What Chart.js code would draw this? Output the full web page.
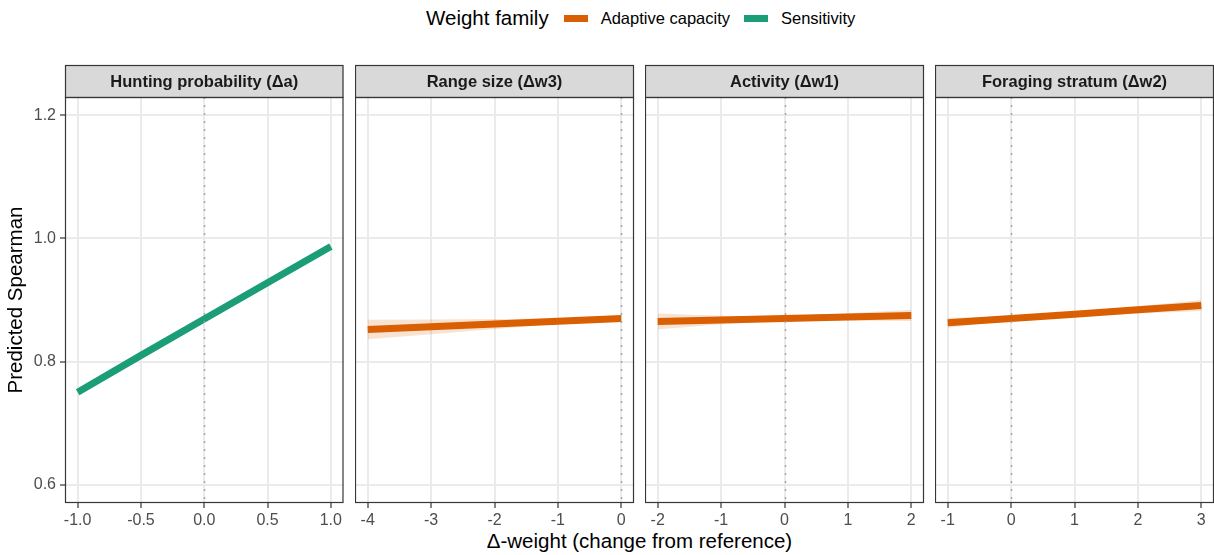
<!DOCTYPE html>
<html>
<head>
<meta charset="utf-8">
<script src="https://cdn.jsdelivr.net/npm/chart.js@4.4.1/dist/chart.umd.min.js"></script>
<style>
  html, body { margin: 0; padding: 0; background: #fff; }
  body { width: 1214px; height: 555px; position: relative; overflow: hidden;
         font-family: 'Liberation Sans', Arial, Helvetica, sans-serif; }
  canvas { position: absolute; top: 0; }
  #legend { position: absolute; left: 426px; top: 6px; height: 24px; display: flex; align-items: center; white-space: nowrap; }
  #legend .title { font-size: 20.5px; color: #000; margin-right: 15px; }
  #legend .key { width: 24px; height: 7px; margin-right: 13px; }
  #legend .label { font-size: 16.5px; color: #000; margin-right: 14px; }
  #xtitle { position: absolute; left: 65px; width: 1149px; top: 529px; height: 24px; line-height: 24px;
            text-align: center; font-size: 20.5px; color: #000; white-space: nowrap; }
</style>
</head>
<body>
<div id="legend"></div>
<div id="xtitle">Δ-weight (change from reference)</div>
<script>
// ---- data -------------------------------------------------------------
const familyNames = ['Adaptive capacity', 'Sensitivity'];
const legendTitle = 'Weight family';

const panelTitles = ['Hunting probability (Δa)', 'Range size (Δw3)', 'Activity (Δw1)', 'Foraging stratum (Δw2)'];
const panelFamilies = ['Sensitivity', 'Adaptive capacity', 'Adaptive capacity', 'Adaptive capacity'];

// Hunting probability (Δa)
const xHunting    = [-1, -0.5, 0, 0.5, 1];
const fitHunting  = [0.750, 0.810, 0.869, 0.928, 0.987];
const lowHunting  = [0.746, 0.807, 0.867, 0.925, 0.983];
const highHunting = [0.754, 0.813, 0.871, 0.931, 0.991];

// Range size (Δw3)
const xRange    = [-4, -3, -2, -1, 0];
const fitRange  = [0.852, 0.8565, 0.861, 0.8655, 0.870];
const lowRange  = [0.836, 0.8445, 0.853, 0.861, 0.867];
const highRange = [0.868, 0.8685, 0.869, 0.870, 0.873];

// Activity (Δw1)
const xActivity    = [-2, -1, 0, 1, 2];
const fitActivity  = [0.865, 0.8675, 0.870, 0.8725, 0.875];
const lowActivity  = [0.852, 0.8605, 0.867, 0.8665, 0.866];
const highActivity = [0.878, 0.8745, 0.873, 0.8785, 0.884];

// Foraging stratum (Δw2)
const xForaging    = [-1, 0, 1, 2, 3];
const fitForaging  = [0.863, 0.870, 0.877, 0.884, 0.891];
const lowForaging  = [0.855, 0.867, 0.873, 0.878, 0.882];
const highForaging = [0.871, 0.873, 0.881, 0.890, 0.900];

// axes
const yTicks = [0.6, 0.8, 1.0, 1.2];
const yTickLabels = ['0.6', '0.8', '1.0', '1.2'];
const yLimits = [0.57, 1.23];

const xTicksHunting = [-1, -0.5, 0, 0.5, 1];
const xLabelsHunting = ['-1.0', '-0.5', '0.0', '0.5', '1.0'];
const xTicksRange = [-4, -3, -2, -1, 0];
const xLabelsRange = ['-4', '-3', '-2', '-1', '0'];
const xTicksActivity = [-2, -1, 0, 1, 2];
const xLabelsActivity = ['-2', '-1', '0', '1', '2'];
const xTicksForaging = [-1, 0, 1, 2, 3];
const xLabelsForaging = ['-1', '0', '1', '2', '3'];
const xLimits = [[-1.1, 1.1], [-4.2, 0.2], [-2.2, 2.2], [-1.2, 3.2]];

const yTitle = 'Predicted Spearman';

// ---- styling ----------------------------------------------------------
const FONT = "'Liberation Sans', Arial, Helvetica, sans-serif";
const familyStyle = {
  'Adaptive capacity': { line: '#D95F02', band: 'rgba(217,95,2,0.18)' },
  'Sensitivity':       { line: '#1B9E77', band: 'rgba(27,158,119,0.22)' }
};
const H = 555;
const panelLeft = [65, 355, 645, 935];
const panelW = 279;
const plotTop = 97, plotBottom = 503, stripTop = 65;
const gridColor = '#EBEBEB';
const frameColor = '#363636';
const tickText = '#4D4D4D';

const panels = [
  { x: xHunting,  fit: fitHunting,  low: lowHunting,  high: highHunting,  ticks: xTicksHunting,  labels: xLabelsHunting },
  { x: xRange,    fit: fitRange,    low: lowRange,    high: highRange,    ticks: xTicksRange,    labels: xLabelsRange },
  { x: xActivity, fit: fitActivity, low: lowActivity, high: highActivity, ticks: xTicksActivity, labels: xLabelsActivity },
  { x: xForaging, fit: fitForaging, low: lowForaging, high: highForaging, ticks: xTicksForaging, labels: xLabelsForaging }
];

// ---- legend -----------------------------------------------------------
(function buildLegend() {
  const lg = document.getElementById('legend');
  const t = document.createElement('span');
  t.className = 'title'; t.textContent = legendTitle; lg.appendChild(t);
  familyNames.forEach(name => {
    const k = document.createElement('span');
    k.className = 'key'; k.style.background = familyStyle[name].line; lg.appendChild(k);
    const l = document.createElement('span');
    l.className = 'label'; l.textContent = name; lg.appendChild(l);
  });
})();

// ---- panel decorations: zero reference line, frame, facet strip --------
const panelDecor = {
  id: 'panelDecor',
  afterDatasetsDraw(chart) {
    const { ctx, chartArea: a } = chart;
    const x0 = Math.round(chart.scales.x.getPixelForValue(0)) + 0.5;
    ctx.save();
    ctx.beginPath(); ctx.rect(a.left, a.top, a.right - a.left, a.bottom - a.top); ctx.clip();
    ctx.strokeStyle = '#A6A6A6';
    ctx.lineWidth = 1.5;
    ctx.setLineDash([2, 6]);
    ctx.beginPath(); ctx.moveTo(x0, a.top); ctx.lineTo(x0, a.bottom); ctx.stroke();
    ctx.restore();
  },
  afterDraw(chart, args, opts) {
    const { ctx, chartArea: a } = chart;
    ctx.save();
    ctx.lineWidth = 1.2;
    ctx.strokeStyle = frameColor;
    // facet strip
    ctx.fillStyle = '#D9D9D9';
    ctx.fillRect(a.left, stripTop, a.right - a.left, a.top - stripTop);
    ctx.strokeRect(a.left + 0.5, stripTop + 0.5, a.right - a.left - 1, a.top - stripTop);
    ctx.fillStyle = '#1A1A1A';
    ctx.font = 'bold 16.5px ' + FONT;
    ctx.textAlign = 'center';
    ctx.textBaseline = 'middle';
    ctx.fillText(opts.title, (a.left + a.right) / 2, (stripTop + a.top) / 2 + 1);
    // panel frame
    ctx.strokeRect(a.left + 0.5, a.top + 0.5, a.right - a.left - 1, a.bottom - a.top - 1);
    ctx.restore();
  }
};

function buildPanel(i) {
  const first = i === 0;
  const yAxisW = first ? panelLeft[0] : 0;
  const canvas = document.createElement('canvas');
  canvas.width = yAxisW + panelW + 1;
  canvas.height = H;
  canvas.style.left = (panelLeft[i] - yAxisW) + 'px';
  document.body.appendChild(canvas);

  const p = panels[i];
  const st = familyStyle[panelFamilies[i]];
  const pts = ys => p.x.map((x, k) => ({ x: x, y: ys[k] }));

  new Chart(canvas, {
    type: 'line',
    data: {
      datasets: [
        { data: pts(p.fit), borderColor: st.line, borderWidth: 7, borderCapStyle: 'butt',
          pointRadius: 0, fill: false, tension: 0 },
        { data: pts(p.high), borderWidth: 0, borderColor: 'rgba(0,0,0,0)', pointRadius: 0,
          backgroundColor: st.band, fill: '+1', tension: 0 },
        { data: pts(p.low), borderWidth: 0, borderColor: 'rgba(0,0,0,0)', pointRadius: 0,
          fill: false, tension: 0 }
      ]
    },
    options: {
      responsive: false,
      animation: false,
      devicePixelRatio: 1,
      layout: { padding: { top: plotTop, right: 1, bottom: 0, left: 0 } },
      plugins: {
        legend: { display: false },
        tooltip: { enabled: false },
        panelDecor: { title: panelTitles[i] }
      },
      scales: {
        x: {
          type: 'linear',
          min: xLimits[i][0], max: xLimits[i][1],
          afterBuildTicks: s => { s.ticks = p.ticks.map(v => ({ value: v })); },
          afterFit: s => { s.height = H - plotBottom; },
          border: { display: false },
          grid: { color: gridColor, lineWidth: 2, drawTicks: true, tickLength: 5,
                  tickColor: '#333333', tickWidth: 1.2 },
          ticks: { callback: (v, idx) => p.labels[idx], color: tickText, padding: 3,
                   font: { family: FONT, size: 16 }, maxRotation: 0, autoSkip: false }
        },
        y: {
          type: 'linear',
          min: yLimits[0], max: yLimits[1],
          afterBuildTicks: s => { s.ticks = yTicks.map(v => ({ value: v })); },
          afterFit: s => { s.width = yAxisW; },
          border: { display: false },
          grid: { color: gridColor, lineWidth: 2, drawTicks: first, tickLength: 5,
                  tickColor: '#333333', tickWidth: 1.2 },
          ticks: { display: first, callback: (v, idx) => yTickLabels[idx], color: tickText,
                   padding: 4, font: { family: FONT, size: 16 } },
          title: { display: first, text: yTitle, color: '#000',
                   font: { family: FONT, size: 20.5 }, padding: { top: 4, bottom: 0 } }
        }
      }
    },
    plugins: [panelDecor]
  });
}

panels.forEach((_, i) => buildPanel(i));
</script>
</body>
</html>
